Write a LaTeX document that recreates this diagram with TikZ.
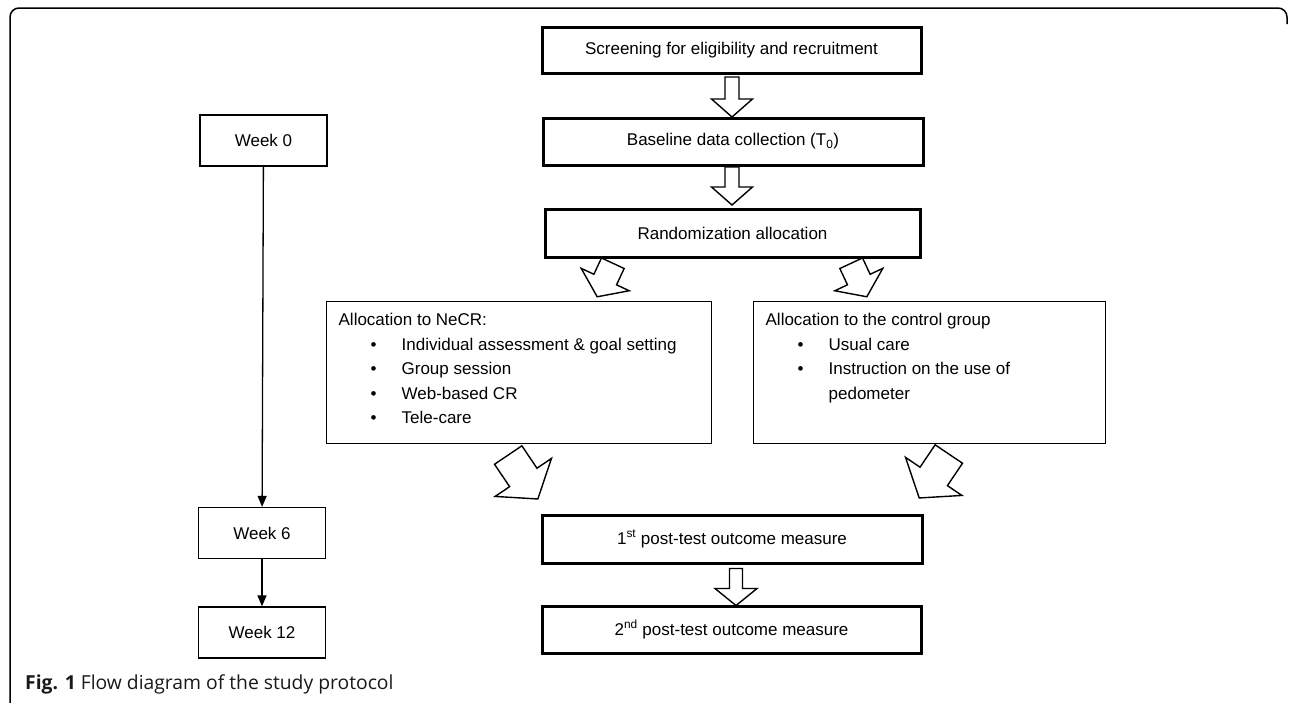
\documentclass[tikz,border=0pt]{standalone}
\usepackage{fontspec}
\setmainfont{Liberation Sans}
\newfontfamily\capfont{Open Sans}
\usetikzlibrary{positioning,arrows.meta}

\newcommand{\bulletitem}{\hspace*{32pt}\makebox[31pt][l]{\textbullet}}
% fleche pleine : centre, angle, longueur, largeur tete, largeur tige, longueur tete
\newcommand{\fatarrow}[6]{%
  \draw[line width=1.4pt, line join=miter, fill=white, shift={(#1)}, rotate=#2]
    (-#3/2,-#5/2) -- (#3/2-#6,-#5/2) -- (#3/2-#6,-#4/2) -- (#3/2,0)
    -- (#3/2-#6,#4/2) -- (#3/2-#6,#5/2) -- (-#3/2,#5/2) -- cycle;}

\begin{document}
\begin{tikzpicture}[x=1pt, y=-1pt,
  font=\fontsize{17}{24.5}\selectfont,
  thickbox/.style={draw, line width=3pt, minimum width=379pt, minimum height=47pt, inner sep=0pt},
  weekbox/.style={draw, line width=1.3pt, minimum width=127pt, minimum height=51pt, inner sep=0pt},
  groupbox/.style={draw, line width=1.3pt, anchor=north west, inner sep=12pt},
  timeline/.style={line width=1.3pt, -{Triangle[length=11pt,width=9pt]}}
]
  \useasboundingbox (0,0) rectangle (1290,702);

  % cadre
  \draw[line width=1.5pt, rounded corners=9pt] (10,716) -- (10,8) -- (1287,8) -- (1287,24);

  % colonne des semaines
  \node[weekbox] (wk0)  at (263.5,140.5) {Week 0};
  \node[weekbox] (wk6)  at (262,533)     {Week 6};
  \node[weekbox] (wk12) at (262,632.5)   {Week 12};
  \draw[timeline] (wk0) -- (wk6);
  \draw[timeline] (wk6) -- (wk12);

  % etapes principales
  \node[thickbox, minimum height=46pt] (screen) at (731.5,50) {Screening for eligibility and recruitment};
  \node[thickbox, minimum width=380pt] (baseline) at (733,141.5) {Baseline data collection (T\textsubscript{0})};
  \node[thickbox, minimum width=375pt, minimum height=48pt] (random) at (732.5,233) {Randomization allocation};
  \node[thickbox, minimum width=380pt, minimum height=48pt] (post1) at (732,539) {1\textsuperscript{st} post-test outcome measure};
  \node[thickbox] (post2) at (731.5,629.5) {2\textsuperscript{nd} post-test outcome measure};

  % groupes
  \node[groupbox] (necr) at (326,301) {\begin{minipage}[t][118pt][t]{361pt}
    Allocation to NeCR:\\
    \bulletitem Individual assessment \& goal setting\\
    \bulletitem Group session\\
    \bulletitem Web-based CR\\
    \bulletitem Tele-care
  \end{minipage}};
  \node[groupbox] (control) at (753,301) {\begin{minipage}[t][118pt][t]{328pt}
    Allocation to the control group\\
    \bulletitem Usual care\\
    \bulletitem Instruction on the use of\\
    \hspace*{63pt}pedometer
  \end{minipage}};

  % fleches pleines
  \fatarrow{732,97}{-90}{40}{41}{14}{18}
  \fatarrow{732,186}{-90}{38}{41}{14}{18}
  \fatarrow{605,280}{-115}{37}{53}{25}{19}
  \fatarrow{859,280}{-65}{37}{53}{25}{19}
  \fatarrow{523,477}{-56}{53}{68}{33}{26}
  \fatarrow{934,476}{-124}{53}{68}{33}{26}
  \fatarrow{736,587}{-90}{37}{42}{13}{17}

  % legende
  \node[anchor=base west, inner sep=0pt, font=\capfont\fontsize{19.3}{23}\selectfont, text=black!90] (caption) at (25,689)
    {\textbf{Fig. 1} Flow diagram of the study protocol};
\end{tikzpicture}
\end{document}
